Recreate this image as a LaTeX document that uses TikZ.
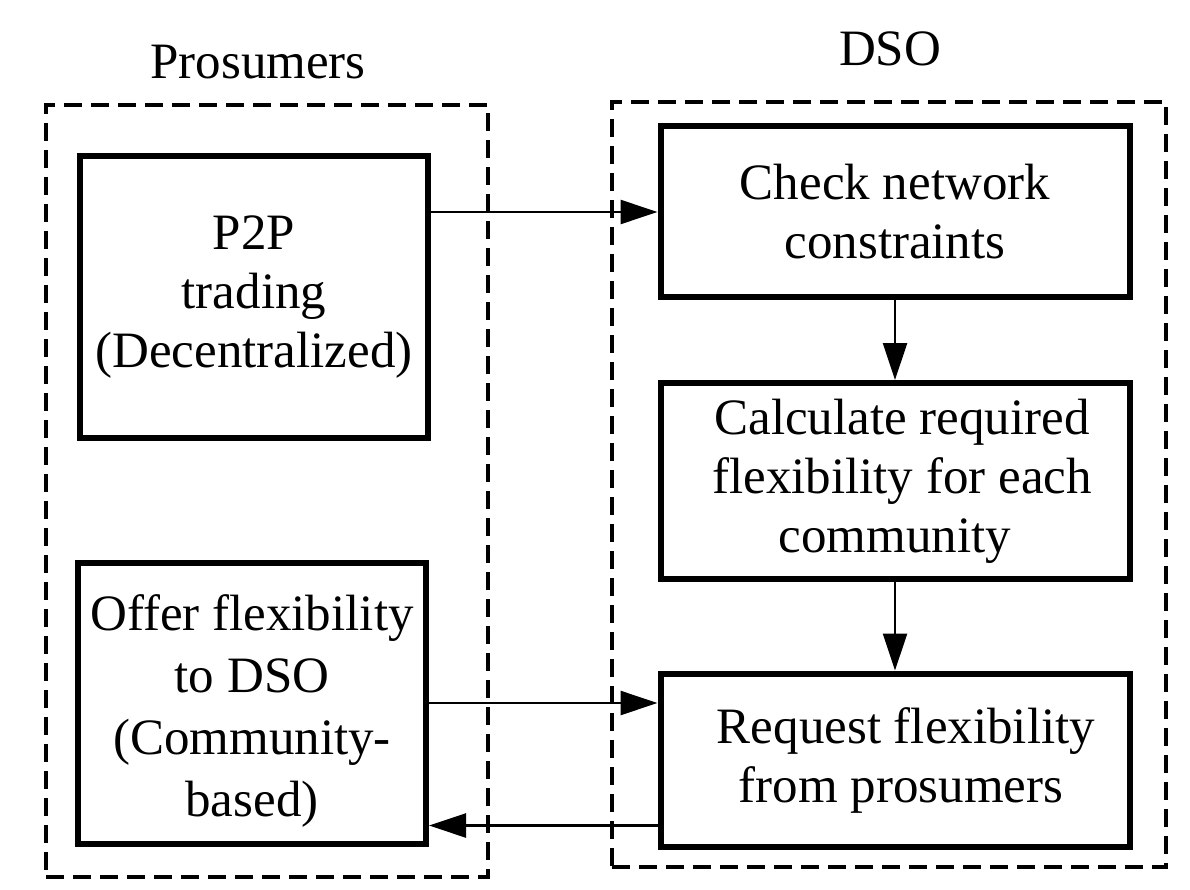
\documentclass[tikz,border=0pt]{standalone}
\usepackage{fontspec}
\setmainfont{Liberation Serif}
\usetikzlibrary{arrows.meta,calc}
\begin{document}
\begin{tikzpicture}[x=1pt,y=-1pt,
  every node/.style={font=\fontsize{51}{59}\selectfont, inner sep=0pt},
  procbox/.style={draw, line width=6pt, rectangle, align=center},
  groupbox/.style={draw, line width=4pt, dash pattern=on 18pt off 9pt, rectangle},
  arr/.style={line width=2.5pt, -{Triangle[length=37pt,width=24pt]}}
]
\useasboundingbox (0,0) rectangle (1190,890);
% groups
\node[groupbox, minimum width=442pt, minimum height=772pt] (gleft) at (267,491) {};
\node[groupbox, minimum width=554pt, minimum height=765pt] (gright) at (889,484.5) {};
\node (tleft) at (258,62) {Prosumers};
\node (tright) at (890,49) {DSO};
% process boxes
\node[procbox, minimum width=348pt, minimum height=282pt] (p2p) at (254,297) {P2P\\trading\\(Decentralized)};
\node[procbox, minimum width=348pt, minimum height=281pt] (offer) at (252,703) {};
\node[align=center, font=\fontsize{51}{62}\selectfont] (offertxt) at (252,711) {Offer flexibility\\to DSO\\(Community-\\based)};
\node[procbox, minimum width=469pt, minimum height=171pt] (check) at (895,212) {Check network\\constraints};
\node[procbox, minimum width=469pt, minimum height=196pt] (calc) at (895,481) {\hspace*{14pt}Calculate required\\\hspace*{14pt}flexibility for each\\community};
\node[procbox, minimum width=469pt, minimum height=173pt] (req) at (895,760) {\hspace*{22pt}Request flexibility\\\hspace*{12pt}from prosumers};
% connectors
\draw[arr] (p2p.east |- check.west) -- (check.west);
\draw[arr] (check.south) -- (calc.north);
\draw[arr] (calc.south) -- (req.north);
\draw[arr] (offer.east) -- (offer.east -| req.west);
\coordinate (rstart) at ([shift={(6pt,24pt)}]req.south west);
\draw[arr] (rstart) -- (rstart -| offer.east);
\end{tikzpicture}
\end{document}
